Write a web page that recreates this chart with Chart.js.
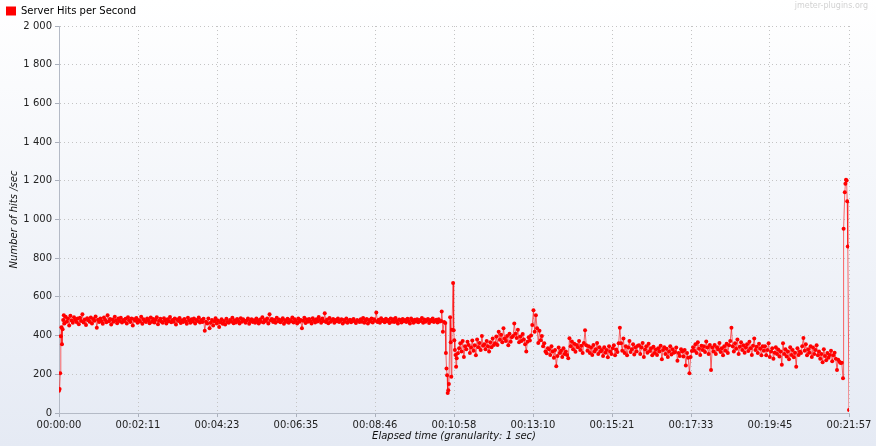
<!DOCTYPE html>
<html>
<head>
<meta charset="utf-8">
<script src="https://cdn.jsdelivr.net/npm/chart.js@4/dist/chart.umd.min.js"></script>
<style>
html,body{margin:0;padding:0;background:#fff;}
#wrap{width:876px;height:446px;position:relative;}
</style>
</head>
<body>
<div id="wrap"><canvas id="c"></canvas></div>
<script>
// ---- data (seconds elapsed -> hits per second) ----
const seriesLabel = 'Server Hits per Second';
const watermark = 'jmeter-plugins.org';
const xTitle = 'Elapsed time (granularity: 1 sec)';
const yTitle = 'Number of hits /sec';
const xMax = 1317;
const xTickLabels = ['00:00:00','00:02:11','00:04:23','00:06:35','00:08:46','00:10:58','00:13:10','00:15:21','00:17:33','00:19:45','00:21:57'];

const rampSecs = [0,1,2,3,4,5,6,7,8];
const rampHits = [115,124,206,397,443,355,433,480,505];

const steadyStart = 9, steadyStep = 2;
const steadyHits = [
 462,498,471,489,452,503,478,466,495,481,470,488,459,492,476,
 510,468,483,455,490,479,472,494,463,486,477,499,441,482,470,
 488,475,461,493,480,469,505,474,486,458,483,471,497,478,464,
 489,476,492,468,481,474,487,462,495,479,470,488,452,484,477,
 491,466,480,473,498,461,485,476,470,489,479,464,493,472,486,
 468,481,495,459,477,487,471,466,490,478,462,485,474,496,469,
 480,472,488,457,483,476,491,465,479,470,486,474,461,492,478,
 466,484,473,489,462,480,475,493,468,481,470,487,425,472,463,
 488,438,466,481,452,474,490,462,478,445,469,484,461,476,458,
 487,470,466,481,473,492,464,479,468,486,475,463,490,472,484,
 477,467,478,489,461,476,485,470,479,466,488,474,462,483,471,
 495,468,480,475,489,463,510,478,486,470,481,467,492,474,483,
 469,477,490,461,479,472,487,466,481,474,493,468,485,476,462,
 489,471,480,438,477,492,465,483,471,486,474,462,490,478,468,
 485,473,496,480,466,488,475,515,470,483,464,491,472,479,486,
 466,481,474,489,470,478,485,463,480,472,488,467,476,482,469,
 479,486,473,465,481,476,470,484,472,491,467,478,486,462,480,
 473,489,468,484,477,520,470,482,466,490,475,481,469,487,474,
 480,465,488,472,484,470,491,476,462,483,479,468,486,474,481,
 470,487,475,463,489,478,466,482,473,485,469,480,476,491,467,
 483,472,478,486,465,480,474,488,470,477,482,468,485,473,476
];

const dropSecs = [638,640,642,644,645,646,647,648,649,650,652,653,654,655,657,658,659,660,661,662,663,665];
const dropHits = [525,420,470,465,310,230,195,103,118,150,495,365,187,430,672,428,376,325,300,239,283,309];

const recoveryStart = 667, recoveryStep = 2;
const recoveryHits = [
 335,360,318,372,290,345,330,368,352,310,338,375,322,350,298,
 380,340,362,325,398,348,355,330,372,345,318,366,340,385,352,
 360,395,352,420,378,405,365,438,385,372,398,350,410,368,392,
 398,462,410,388,430,365,395,372,408,380,355,318,368,392,375,
 400,455,531,420,505,438,362,425,376,398,345,360,318,309,335,
 330,300,345,318,285,325,242,295,338,310,322,290,335,305,318,
 300,283,386,345,370,330,358,316,352,340,372,325,348,310,362,
 428,350,322,345,310,338,300,352,318,330,362,305,340,318,325,
 295,340,312,325,288,345,318,305,335,350,298,328,315,360,440,
 360,322,385,310,345,298,338,372,315,330,355,302,340,318,348,
 350,305,338,362,290,328,345,312,358,320,335,298,342,310,328,
 300,335,318,348,278,325,340,305,332,290,318,345,302,330,312,
 315,338,270,310,295,330,318,292,325,245,310,285,205,290,320,
 340,322,355,310,365,332,300,348,325,345,315,370,338,305,352,
 222,338,318,352,305,340,328,362,315,335,298,345,322,358,310,
 350,372,440,345,318,360,332,380,305,342,365,325,350,312,338,
 355,320,368,335,300,348,385,325,342,310,358,332,298,345,322,
 345,298,325,360,290,318,335,280,312,340,305,328,292,318,250,
 360,305,330,292,318,278,340,300,325,288,312,239,335,300,318,
 310,345,388,322,355,298,330,312,345,290,338,305,325,350,298,
 318,280,305,262,330,295,272,310,285,300,322,268,298,312,280,
 222,275,265,258
];

const endSecs = [1305,1307,1308,1310,1311,1312,1313,1314,1315,1317];
const endHits = [260,179,952,1141,1185,1206,1201,1094,861,15];

// ---- build points ----
const points = [];
rampSecs.forEach((s,i)=>points.push({x:s,y:rampHits[i]}));
steadyHits.forEach((v,i)=>points.push({x:steadyStart+i*steadyStep,y:v}));
dropSecs.forEach((s,i)=>points.push({x:s,y:dropHits[i]}));
recoveryHits.forEach((v,i)=>points.push({x:recoveryStart+i*recoveryStep,y:v}));
endSecs.forEach((s,i)=>points.push({x:s,y:endHits[i]}));

const FONT = '"DejaVu Sans", "Lucida Grande", sans-serif';

const bgPlugin = {
  id: 'bg',
  beforeDraw(chart) {
    const {ctx, width, height} = chart;
    ctx.save();
    const g = ctx.createLinearGradient(0, 0, 0, height);
    g.addColorStop(0, '#ffffff');
    g.addColorStop(1, '#e5eaf4');
    ctx.fillStyle = g;
    ctx.fillRect(0, 0, width, height);
    ctx.fillStyle = '#d2d2d2';
    ctx.font = '8px ' + FONT;
    ctx.textAlign = 'right';
    ctx.textBaseline = 'middle';
    ctx.fillText(watermark, 868, 6);
    ctx.restore();
  }
};

const fmtThousands = v => String(v).replace(/\B(?=(\d{3})+(?!\d))/g, ' ');

const gridOpts = {
  color: '#c4c4c4', lineWidth: 1,
  drawTicks: true, tickLength: 4, tickColor: '#aab0bc', tickBorderDash: []
};
const borderOpts = { display: true, color: '#b4bac6', width: 1, dash: [1, 3] };

new Chart(document.getElementById('c'), {
  type: 'line',
  data: {
    datasets: [{
      label: seriesLabel,
      data: points,
      borderColor: 'rgba(255,0,0,0.6)',
      backgroundColor: '#ff0000',
      borderWidth: 1,
      pointRadius: 2,
      pointBorderWidth: 0,
      pointBackgroundColor: '#ff0000',
      tension: 0,
      fill: false
    }]
  },
  options: {
    responsive: true,
    maintainAspectRatio: false,
    animation: false,
    events: [],
    layout: { padding: { top: 0, right: 27, bottom: 0, left: 0 } },
    plugins: {
      legend: {
        display: true,
        position: 'top',
        align: 'start',
        labels: {
          boxWidth: 10, boxHeight: 9, padding: 6,
          color: '#111',
          font: { family: FONT, size: 10 },
          generateLabels: () => [{
            text: seriesLabel, fillStyle: '#ff0000', strokeStyle: '#ff0000', lineWidth: 0, datasetIndex: 0, hidden: false
          }]
        }
      },
      tooltip: { enabled: false }
    },
    scales: {
      x: {
        type: 'linear',
        min: 0, max: xMax,
        afterBuildTicks: (s) => { s.ticks = xTickLabels.map((_, i) => ({ value: i * xMax / (xTickLabels.length - 1) })); },
        afterFit: (s) => { s.height = 33; },
        ticks: {
          autoSkip: false, maxRotation: 0, padding: 2,
          color: '#222',
          font: { family: FONT, size: 10 },
          callback: (v, i) => xTickLabels[i]
        },
        grid: gridOpts,
        border: borderOpts,
        title: {
          display: true, text: xTitle, color: '#111',
          font: { family: FONT, size: 10, style: 'italic' },
          padding: { top: 0, bottom: 4 }
        }
      },
      y: {
        min: 0, max: 2000,
        afterFit: (s) => { s.width = 59; },
        ticks: {
          stepSize: 200, padding: 3,
          color: '#222',
          font: { family: FONT, size: 10 },
          callback: (v) => fmtThousands(v)
        },
        grid: gridOpts,
        border: borderOpts,
        title: {
          display: true, text: yTitle, color: '#111',
          font: { family: FONT, size: 10, style: 'italic' },
          padding: { top: 8, bottom: 0 }
        }
      }
    }
  },
  plugins: [bgPlugin]
});
</script>
</body>
</html>
